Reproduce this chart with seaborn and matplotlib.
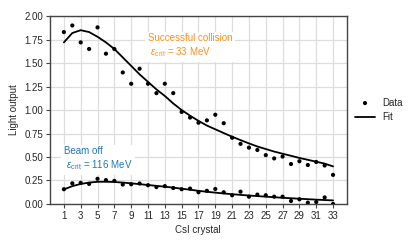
import numpy as np
import pandas as pd
import matplotlib
matplotlib.use("Agg")
import matplotlib.pyplot as plt
import seaborn as sns

# Datos
crystal = list(range(1, 34))
collision_data = [1.83, 1.90, 1.72, 1.65, 1.88, 1.60, 1.65, 1.40, 1.28, 1.44,
                  1.28, 1.18, 1.28, 1.18, 0.98, 0.92, 0.865, 0.89, 0.95, 0.86,
                  0.705, 0.64, 0.60, 0.575, 0.52, 0.485, 0.505, 0.425, 0.455,
                  0.415, 0.447, 0.41, 0.31]
collision_fit = [1.72, 1.82, 1.85, 1.83, 1.78, 1.72, 1.65, 1.56, 1.47, 1.38,
                 1.30, 1.22, 1.15, 1.07, 1.00, 0.94, 0.885, 0.835, 0.795, 0.755,
                 0.716, 0.68, 0.645, 0.612, 0.585, 0.558, 0.535, 0.513, 0.49,
                 0.47, 0.45, 0.43, 0.40]
beamoff_data = [0.157, 0.22, 0.225, 0.214, 0.268, 0.254, 0.246, 0.207, 0.21,
                0.218, 0.20, 0.18, 0.19, 0.17, 0.157, 0.164, 0.125, 0.14, 0.16,
                0.125, 0.093, 0.131, 0.078, 0.10, 0.093, 0.078, 0.078, 0.032,
                0.05, 0.014, 0.021, 0.07, 0.0]
beamoff_fit = [0.155, 0.19, 0.213, 0.228, 0.236, 0.237, 0.234, 0.228, 0.22,
               0.211, 0.202, 0.193, 0.184, 0.174, 0.163, 0.152, 0.14, 0.13,
               0.121, 0.112, 0.104, 0.097, 0.09, 0.084, 0.078, 0.072, 0.066,
               0.061, 0.056, 0.051, 0.046, 0.042, 0.038]
xticks = list(range(1, 34, 2))
yticks = [0.0, 0.25, 0.5, 0.75, 1.0, 1.25, 1.5, 1.75, 2.0]

df = pd.DataFrame({"crystal": crystal, "col": collision_data, "col_fit": collision_fit,
                   "off": beamoff_data, "off_fit": beamoff_fit})

sns.set_style("ticks")
plt.rcParams['font.family'] = ['Liberation Sans', 'DejaVu Sans']
plt.rcParams['mathtext.fontset'] = 'custom'
plt.rcParams['mathtext.rm'] = 'Liberation Sans'
plt.rcParams['mathtext.it'] = 'Liberation Sans:italic'

fig = plt.figure(figsize=(4.15, 2.44), dpi=100)
ax = fig.add_axes([0.1205, 0.164, 0.7145, 0.770])

sns.scatterplot(data=df, x="crystal", y="col", ax=ax, color="black", s=9,
                edgecolor="none", label="Data", zorder=3)
sns.lineplot(data=df, x="crystal", y="col_fit", ax=ax, color="black", lw=1.3,
             label="Fit", zorder=3)
sns.scatterplot(data=df, x="crystal", y="off", ax=ax, color="black", s=9,
                edgecolor="none", legend=False, zorder=3)
sns.lineplot(data=df, x="crystal", y="off_fit", ax=ax, color="black", lw=1.3,
             legend=False, zorder=3)

ax.set_xlim(-0.65, 34.6)
ax.set_ylim(0, 2.0)
ax.set_xticks(xticks)
ax.set_yticks(yticks)
ax.set_yticklabels([f"{v:.2f}" for v in yticks])
ax.grid(True, color="#dddddd", lw=0.9, zorder=0)
ax.set_axisbelow(True)
for s in ax.spines.values():
    s.set_color("#444444")
    s.set_linewidth(1.0)
ax.tick_params(labelsize=7, length=3, width=0.8, color="#444444", pad=2)
ax.set_xlabel("CsI crystal", fontsize=7, labelpad=3)
ax.set_ylabel("Light output", fontsize=7, labelpad=4)

ax.text(11.0, 1.68, "Successful collision\n $\\epsilon_{\\mathrm{crit}}$ = 33 MeV",
        color="#ff8c1a", fontsize=7, ha="left", va="center",
        bbox=dict(facecolor="white", edgecolor="none", pad=2), zorder=2)
ax.text(1.0, 0.475, "Beam off\n $\\epsilon_{\\mathrm{crit}}$ = 116 MeV",
        color="#1f77b4", fontsize=7, ha="left", va="center",
        bbox=dict(facecolor="white", edgecolor="none", pad=2), zorder=2)

ax.legend(loc="center left", bbox_to_anchor=(1.0, 0.50), frameon=False,
          fontsize=7, handlelength=2.0, markerscale=1.0)

fig.savefig("out.png", dpi=100)
